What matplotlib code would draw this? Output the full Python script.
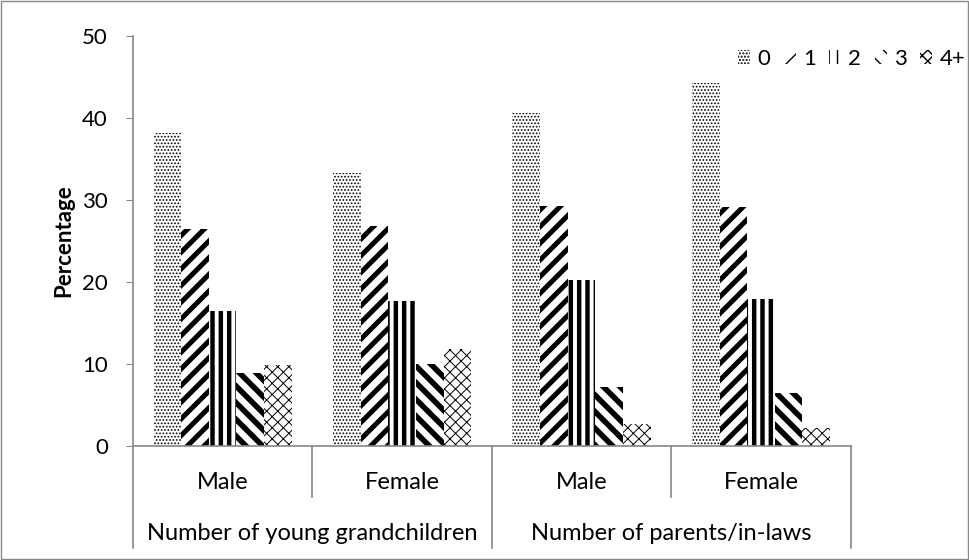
import numpy as np
import matplotlib.pyplot as plt
import matplotlib as mpl

plt.rcParams['font.family'] = ['Lato', 'DejaVu Sans']
plt.rcParams['hatch.color'] = 'black'

groups = ['Number of young grandchildren', 'Number of parents/in-laws']
sexes = ['Male', 'Female', 'Male', 'Female']
series = ['0', '1', '2', '3', '4+']
v0 = [38.1, 33.3, 40.6, 44.3]
v1 = [26.5, 26.8, 29.2, 29.1]
v2 = [16.4, 17.7, 20.2, 17.9]
v3 = [8.9, 10.0, 7.2, 6.4]
v4 = [9.9, 11.8, 2.6, 2.2]

values = [v0, v1, v2, v3, v4]
hatches = ['.....', '//', '||', '\\\\', 'xxx']
hlw = [0.8, 3.6, 3.2, 4.0, 0.7]

fig = plt.figure(figsize=(9.7, 5.6), dpi=100)
ax = fig.add_axes([0.137, 0.204, 0.740, 0.732])

x = np.arange(len(sexes))
w = 0.154
for i, vals in enumerate(values):
    bars = ax.bar(x + (i - 2) * w, vals, w, color='white', edgecolor='black',
                  hatch=hatches[i], label=series[i], linewidth=0)
    for b in bars:
        if hasattr(b, 'set_hatch_linewidth'):
            b.set_hatch_linewidth(hlw[i])

ax.set_xlim(-0.5, 3.5)
ax.set_ylim(0, 50)
ax.set_yticks([0, 10, 20, 30, 40, 50])
ax.tick_params(axis='y', labelsize=16, length=5, pad=13, color='#888888')
ax.set_xticks([])
for s in ['top', 'right']:
    ax.spines[s].set_visible(False)
for s in ['left', 'bottom']:
    ax.spines[s].set_color('#888888')
    ax.spines[s].set_linewidth(1.2)
ax.set_ylabel('Percentage', fontsize=16, fontweight='bold', labelpad=6)

# category axis separators and labels
tr = ax.get_xaxis_transform()
for xs, depth in [(-0.5, -0.249), (0.5, -0.124), (1.5, -0.249), (2.5, -0.124), (3.5, -0.249)]:
    ax.plot([xs, xs], [0, depth], color='#888888', lw=1.2, transform=tr, clip_on=False)
for i, s in enumerate(sexes):
    ax.text(i, -0.105, s, transform=tr, ha='center', va='baseline', fontsize=17)
for j, g in enumerate(groups):
    ax.text(0.5 + 2 * j, -0.229, g, transform=tr, ha='center', va='baseline', fontsize=17)

leg = ax.legend(loc='center left', bbox_to_anchor=(0.843, 0.944), ncol=5, frameon=False,
                fontsize=16, handlelength=0.54, handleheight=0.63, handletextpad=0.33,
                columnspacing=0.6, borderaxespad=0, borderpad=0)

fig.patches.append(mpl.patches.Rectangle((0.001, 0.002), 0.997, 0.996, transform=fig.transFigure,
                                         fill=False, edgecolor='#888888', lw=1))
fig.savefig('out.png', dpi=100)
